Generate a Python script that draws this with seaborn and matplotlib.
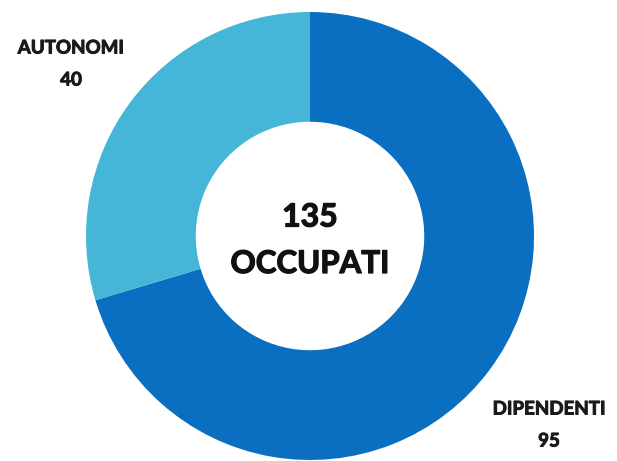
import matplotlib
matplotlib.use("Agg")
import matplotlib.pyplot as plt
import matplotlib.patheffects as pe
import seaborn as sns

categories = ["DIPENDENTI", "AUTONOMI"]
values = [95, 40]
total_label = "OCCUPATI"
colors = ["#0A6FC0", "#45B6D7"]

sns.set_theme(style="white")
plt.rcParams['font.family'] = ['Lato', 'DejaVu Sans']

fig = plt.figure(figsize=(6.17, 4.61), dpi=100)
ax = fig.add_axes([86/617, 1/461, 448/617, 448/461])
ax.pie(values, colors=colors, startangle=90, counterclock=False,
       wedgeprops=dict(width=0.49, edgecolor="none"), radius=1.0)
ax.set_xlim(-1, 1)
ax.set_ylim(-1, 1)
ax.set_aspect("auto")
ax.axis("off")

big = [pe.withStroke(linewidth=0.9, foreground="#111111")]
small = [pe.withStroke(linewidth=0.7, foreground="#1a1a1a")]

total = sum(values)
fig.text(310/617, 1 - 217/461, f"{total}", ha="center", va="center",
         fontsize=23, fontweight="bold", color="#111111", path_effects=big)
fig.text(310/617, 1 - 264/461, total_label, ha="center", va="center",
         fontsize=22.5, fontweight="bold", color="#111111", path_effects=big)

# outside labels
fig.text(71/617, 1 - 48/461, categories[1], ha="center", va="center",
         fontsize=13.5, fontweight="bold", color="#1a1a1a", path_effects=small)
fig.text(71/617, 1 - 80/461, f"{values[1]}", ha="center", va="center",
         fontsize=13.5, fontweight="bold", color="#1a1a1a", path_effects=small)
fig.text(549/617, 1 - 409/461, categories[0], ha="center", va="center",
         fontsize=13.5, fontweight="bold", color="#1a1a1a", path_effects=small)
fig.text(549/617, 1 - 441/461, f"{values[0]}", ha="center", va="center",
         fontsize=13.5, fontweight="bold", color="#1a1a1a", path_effects=small)

fig.savefig("out.png", dpi=100, facecolor="white")
